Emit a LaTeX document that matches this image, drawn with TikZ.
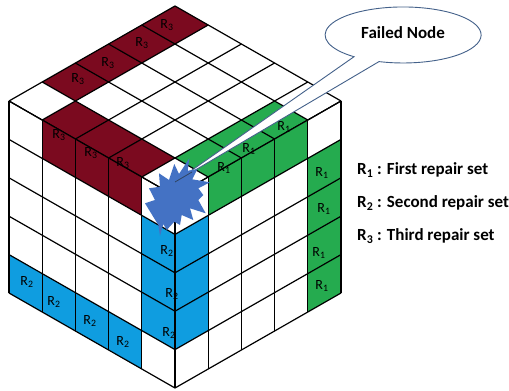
\documentclass[tikz,border=0pt]{standalone}
\usepackage{fontspec}
\setmainfont{Carlito}
\usepackage{xcolor}
\usepackage{tikz}
\definecolor{setred}{HTML}{7B0A1F}
\definecolor{setgreen}{HTML}{25AB4F}
\definecolor{setblue}{HTML}{0F9DE0}
\definecolor{starblue}{HTML}{4472C4}
\definecolor{calloutblue}{HTML}{44618A}
\newcommand{\Rset}[1]{R\textsubscript{#1}}
\newcommand{\facecell}[3]{\fill[#3] (#1,#2) -- (#1+1,#2) -- (#1+1,#2+1) -- (#1,#2+1) -- cycle;}
\tikzset{
  gridline/.style={black,line width=1.2pt},
  setlabel/.style={font=\fontsize{14}{14}\selectfont,text=black,inner sep=0pt},
  legendtext/.style={font=\fontsize{17}{17}\selectfont\bfseries,text=black,anchor=west,inner sep=0pt},
  topface/.style={x={(-33.2pt,19pt)},y={(33.2pt,19pt)},shift={(175pt,-196pt)}},
  leftface/.style={x={(-33.2pt,19pt)},y={(0pt,-38.4pt)},shift={(175pt,-196pt)}},
  rightface/.style={x={(33.2pt,19pt)},y={(0pt,-38.4pt)},shift={(175pt,-196pt)}}
}
\begin{document}
\begin{tikzpicture}[x=1pt,y=-1pt]
\fill[white] (0,0) rectangle (509,391);
% top face
\begin{scope}[topface]
\foreach \b in {1,...,4} {\facecell{4}{\b}{setred}}
\foreach \a in {1,2,3} {\facecell{\a}{0}{setred}}
\foreach \b in {1,2,3} {\facecell{0}{\b}{setgreen}}
\foreach \i in {0,...,5} {
\draw[gridline] (\i,0) -- (\i,5);
\draw[gridline] (0,\i) -- (5,\i);
}
\end{scope}
% left face
\begin{scope}[leftface]
\foreach \a in {1,2,3} {\facecell{\a}{0}{setred}}
\foreach \a in {1,...,4} {\facecell{\a}{4}{setblue}}
\foreach \r in {1,2,3} {\facecell{0}{\r}{setblue}}
\foreach \i in {0,...,5} {
\draw[gridline] (\i,0) -- (\i,5);
\draw[gridline] (0,\i) -- (5,\i);
}
\end{scope}
% right face
\begin{scope}[rightface]
\foreach \a in {1,2,3} {\facecell{\a}{0}{setgreen}}
\foreach \r in {1,2,3} {\facecell{0}{\r}{setblue}}
\foreach \r in {1,...,4} {\facecell{4}{\r}{setgreen}}
\foreach \i in {0,...,5} {
\draw[gridline] (\i,0) -- (\i,5);
\draw[gridline] (0,\i) -- (5,\i);
}
\end{scope}
% cell labels
\foreach \lx/\ly/\set in {167/25/3,142/43/3,108/63/3,78/79/3,59/135/3,91/153/3,123/163/3,
  284/127/1,249/149/1,224/168/1,322/173/1,324/209/1,319/253/1,322/286/1,
  167/251/2,172/294/2,169/333/2,27/282/2,54/302/2,90/321/2,123/342/2} {
\node[setlabel] (cell\lx) at (\lx,\ly) {\Rset{\set}};
}
% callout
\draw[calloutblue,fill=white,line width=0.9pt] (175,182) -- (379,61.6)
  arc[start angle=108,end angle=-231,x radius=78,y radius=28] -- cycle;
\node[legendtext,anchor=center] (failed) at (403,33) {Failed Node};
% failed node
\fill[starblue] (174.3,164) -- (179,174) -- (189.3,158.3) -- (187.7,170.7) -- (197.3,169.3)
  -- (192.3,179.3) -- (210,182.3) -- (198.3,188.3) -- (203.3,195) -- (198.3,200)
  -- (205.7,213.3) -- (190,208.3) -- (193.3,220) -- (181.7,215) -- (180,225)
  -- (174.3,221.7) -- (166.7,230) -- (163.3,224) -- (160,236) -- (158.3,225)
  -- (145,203.3) -- (155,200) -- (149,188.3) -- (160,186.7) -- (159,173.3) -- (169,180) -- cycle;
\draw[calloutblue!70!black,line width=0.8pt] (175,182) -- (192,172);
% legend
\node[legendtext] (first) at (357,170) {\Rset{1} : First repair set};
\node[legendtext] (second) at (357,203) {\Rset{2} : Second repair set};
\node[legendtext] (third) at (357,236) {\Rset{3} : Third repair set};
\end{tikzpicture}
\end{document}
